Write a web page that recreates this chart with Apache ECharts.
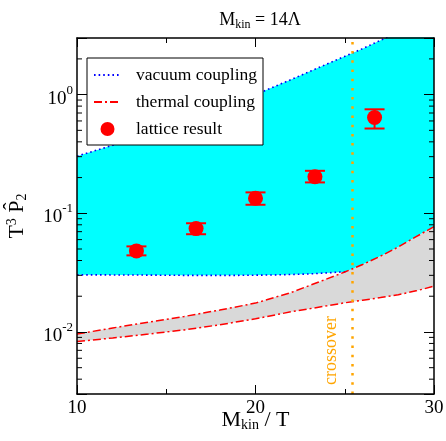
<!DOCTYPE html>
<html>
<head>
<meta charset="utf-8">
<script src="https://cdn.jsdelivr.net/npm/echarts@6/dist/echarts.min.js"></script>
<style>
  html, body { margin: 0; padding: 0; background: #fff; }
  #main { width: 446px; height: 441px; }
</style>
</head>
<body>
<div id="main"></div>
<script>
// vacuum coupling band (cyan), upper and lower edge
var vacX = [10, 12, 14, 16, 18, 20, 22, 24, 26, 28, 30];
var vacUpper = [0.303, 0.374, 0.468, 0.594, 0.767, 1.0, 1.34, 1.81, 2.44, 3.37, 4.73];
var vacLowX = [10, 13, 16, 19, 21, 23, 25.1];
var vacLower = [0.0303, 0.0302, 0.0300, 0.0300, 0.0302, 0.0308, 0.0322];

// thermal coupling band (gray)
var thX = [10, 12, 14, 16, 18, 20, 22, 24, 25, 26, 27, 28, 29, 30];
var thUpper = [0.0096, 0.0108, 0.0121, 0.0135, 0.0153, 0.0175, 0.0215, 0.0280, 0.0320, 0.0370, 0.0435, 0.0520, 0.0635, 0.0772];
var thLower = [0.0083, 0.0089, 0.0096, 0.0104, 0.0115, 0.0129, 0.0148, 0.0166, 0.0176, 0.0185, 0.0195, 0.0206, 0.0222, 0.0243];

// lattice points with error bars
var latX = [13.33, 16.67, 20, 23.33, 26.67];
var latY = [0.0482, 0.0743, 0.134, 0.203, 0.641];
var latLo = [0.0442, 0.0666, 0.118, 0.182, 0.518];
var latHi = [0.0526, 0.0824, 0.150, 0.228, 0.752];

var crossoverX = 25.4;
var yMinorTicks = [0.004, 0.005, 0.006, 0.007, 0.008, 0.009,
  0.02, 0.03, 0.04, 0.05, 0.06, 0.07, 0.08, 0.09,
  0.2, 0.3, 0.4, 0.5, 0.6, 0.7, 0.8, 0.9, 2];

var serif = 'Liberation Serif';
var chart = echarts.init(document.getElementById('main'));

function pairs(xs, ys) {
  return xs.map(function (x, i) { return [x, ys[i]]; });
}
// white mask under the cyan band: vacuum lower edge, then thermal upper edge after crossing
var maskData = pairs(vacLowX, vacLower).concat(
  pairs(thX, thUpper).filter(function (p) { return p[0] > 25.1; }));

function decadeLabel(v) {
  var lg = Math.log10(v), e = Math.round(lg);
  if (Math.abs(lg - e) > 1e-6) return '';
  return '{b|10}{s|' + e + '}';
}

var blueDot = { color: '#0000ff', width: 1.6, type: [1.6, 3] };
var redDash = { color: '#ff0000', width: 1.5, type: [8, 3, 2, 3] };

function bandSeries(name, data, fill, line) {
  return {
    name: name, type: 'line', data: data, symbol: 'none', silent: true,
    lineStyle: line || { width: 0 },
    areaStyle: { color: fill, opacity: 1, origin: 'start' }
  };
}
function edgeSeries(name, data, line) {
  return { name: name, type: 'line', data: data, symbol: 'none', silent: true, lineStyle: line };
}

var tickStyle = { color: '#000', width: 1 };
var axisLine = { show: true, lineStyle: { color: '#000', width: 1.5 } };

chart.setOption({
  animation: false,
  backgroundColor: '#fff',
  title: {
    text: '{m|M}{k|kin}{m| = 14Λ}',
    left: 255, top: 5, textAlign: 'center',
    textStyle: {
      fontWeight: 'normal',
      rich: {
        m: { fontFamily: serif, fontSize: 18, fontWeight: 'normal', color: '#000' },
        k: { fontFamily: serif, fontSize: 12, fontWeight: 'normal', color: '#000', padding: [9, 0, 0, 0] }
      }
    }
  },
  grid: { left: 77, right: 12, top: 38, bottom: 47, outerBoundsMode: 'none' },
  legend: {
    data: [
      { name: 'vacuum coupling', itemStyle: { opacity: 0 } },
      { name: 'thermal coupling', itemStyle: { opacity: 0 } },
      { name: 'lattice result' }
    ],
    orient: 'vertical', left: 87, top: 58,
    padding: [8, 6, 7, 6], itemGap: 9,
    itemWidth: 27, itemHeight: 14,
    backgroundColor: '#fff', borderColor: '#000', borderWidth: 1,
    borderRadius: 0,
    textStyle: { fontFamily: serif, fontSize: 17.5, color: '#000', padding: [0, 0, 0, 10] }
  },
  xAxis: [{
    type: 'value', min: 10, max: 30, interval: 10, z: 6,
    name: '{m|M}{k|kin}{m| / T}', nameLocation: 'middle', nameGap: 14, nameMoveOverlap: false,
    nameTextStyle: {
      rich: {
        m: { fontFamily: serif, fontSize: 22, color: '#000' },
        k: { fontFamily: serif, fontSize: 14, color: '#000', padding: [10, 0, 0, 0] }
      }
    },
    axisLine: axisLine,
    axisTick: { inside: true, length: 9, lineStyle: tickStyle },
    minorTick: { show: true, splitNumber: 2, length: 5, lineStyle: tickStyle },
    splitLine: { show: false },
    axisLabel: { fontFamily: serif, fontSize: 19, color: '#000', margin: 5 }
  }, {
    type: 'value', min: 10, max: 30, interval: 10, position: 'top', z: 6,
    axisLine: axisLine,
    axisTick: { inside: true, length: 9, lineStyle: tickStyle },
    minorTick: { show: true, splitNumber: 2, length: 5, lineStyle: tickStyle },
    splitLine: { show: false },
    axisLabel: { show: false }
  }],
  yAxis: [{
    type: 'log', logBase: 10, min: 0.003, max: 3, z: 6,
    name: '{t|T}{s|3}{p| P\u0302}{b|2}', nameLocation: 'middle', nameGap: 48, nameRotate: 90,
    nameMoveOverlap: false,
    nameTextStyle: {
      rich: {
        t: { fontFamily: serif, fontSize: 22, color: '#000' },
        p: { fontFamily: serif, fontSize: 22, color: '#000' },
        s: { fontFamily: serif, fontSize: 14, color: '#000', padding: [0, 0, 10, 0] },
        b: { fontFamily: serif, fontSize: 14, color: '#000', padding: [10, 0, 0, 0] }
      }
    },
    axisLine: axisLine,
    axisTick: { inside: true, length: 10, lineStyle: tickStyle },
    splitLine: { show: false },
    axisLabel: {
      formatter: decadeLabel, margin: 4,
      rich: {
        b: { fontFamily: serif, fontSize: 19, color: '#000', padding: [8, 0, 0, 0] },
        s: { fontFamily: serif, fontSize: 13, color: '#000', padding: [0, 0, 9, 0] }
      }
    }
  }, {
    type: 'log', logBase: 10, min: 0.003, max: 3, position: 'right', z: 6,
    axisLine: axisLine,
    axisTick: { inside: true, length: 10, lineStyle: tickStyle },
    splitLine: { show: false },
    axisLabel: { show: false }
  }],
  series: [
    bandSeries('vacuum coupling', pairs(vacX, vacUpper), '#00ffff', blueDot),
    bandSeries('mask', maskData, '#ffffff'),
    bandSeries('thermal band', pairs(thX, thUpper), '#d9d9d9'),
    bandSeries('mask2', pairs(thX, thLower), '#ffffff'),
    edgeSeries('vacuum lower', pairs(vacLowX, vacLower), blueDot),
    edgeSeries('thermal coupling', pairs(thX, thUpper), redDash),
    edgeSeries('thermal lower', pairs(thX, thLower), redDash),
    {
      name: 'error bars', type: 'custom', silent: true, z: 3,
      data: latX.map(function (x, i) { return [x, latLo[i], latHi[i]]; }),
      renderItem: function (params, api) {
        var lo = api.coord([api.value(0), api.value(1)]);
        var hi = api.coord([api.value(0), api.value(2)]);
        var w = 10;
        var st = { stroke: '#ff0000', lineWidth: 2 };
        return {
          type: 'group', children: [
            { type: 'line', shape: { x1: lo[0], y1: lo[1], x2: hi[0], y2: hi[1] }, style: st },
            { type: 'line', shape: { x1: lo[0] - w, y1: lo[1], x2: lo[0] + w, y2: lo[1] }, style: st },
            { type: 'line', shape: { x1: hi[0] - w, y1: hi[1], x2: hi[0] + w, y2: hi[1] }, style: st }
          ]
        };
      }
    },
    {
      name: 'lattice result', type: 'scatter', z: 4,
      data: pairs(latX, latY), symbol: 'circle', symbolSize: 15,
      itemStyle: { color: '#ff0000', opacity: 1 },
      markLine: {
        silent: true, symbol: 'none', animation: false,
        data: [{ xAxis: crossoverX }],
        lineStyle: { color: '#ffa500', width: 2.5, type: [2.5, 6.7] },
        label: {
          show: true, formatter: 'crossover', position: 'insideStartTop',
          distance: [9, 12],
          fontFamily: serif, fontSize: 18, color: '#ffa500'
        }
      }
    },
    {
      name: 'minor ticks', type: 'custom', silent: true, z: 7, clip: false,
      data: yMinorTicks.map(function (v) { return [10, v]; }),
      renderItem: function (params, api) {
        var l = api.coord([10, api.value(1)]);
        var r = api.coord([30, api.value(1)]);
        var st = { stroke: '#000', lineWidth: 1 };
        return {
          type: 'group', children: [
            { type: 'line', shape: { x1: l[0], y1: l[1], x2: l[0] + 5, y2: l[1] }, style: st },
            { type: 'line', shape: { x1: r[0] - 5, y1: r[1], x2: r[0], y2: r[1] }, style: st }
          ]
        };
      }
    }
  ]
});
</script>
</body>
</html>
